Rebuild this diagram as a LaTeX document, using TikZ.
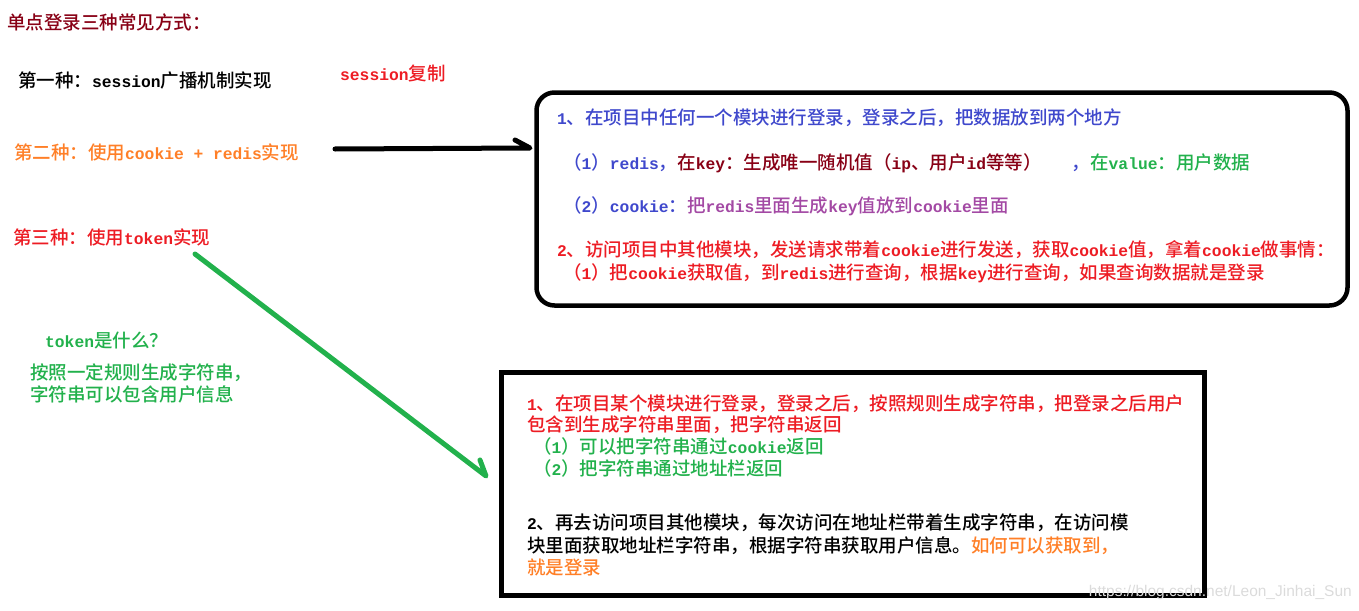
\documentclass[tikz,border=0pt]{standalone}
\usepackage{fontspec}
\setmainfont{Noto Sans CJK SC}[BoldFont={Noto Sans CJK SC Medium}]
\newfontfamily\latf{Liberation Mono}[Scale=0.88]
\newfontfamily\wmf{Liberation Sans}
\newcommand\ltn[1]{{\latf #1}}
\definecolor{pdred}{HTML}{880015}
\definecolor{pred}{HTML}{ED1C24}
\definecolor{porange}{HTML}{FF7F27}
\definecolor{pgreen}{HTML}{22B14C}
\definecolor{pblue}{HTML}{3F48CC}
\definecolor{ppurple}{HTML}{A349A4}
\tikzset{
  txt/.style={anchor=base west, inner sep=0pt, font=\bfseries\fontsize{18.5}{22}\selectfont},
  pen/.style={line width=5pt, line cap=round, line join=round},
}
\begin{document}
\begin{tikzpicture}[x=1pt,y=-1pt]
\useasboundingbox (0,0) rectangle (1359,610);
% boxes
\node[draw, line width=4.5pt, rounded corners=18pt, minimum width=811pt, minimum height=213pt, inner sep=0pt] (box1) at (942,199) {};
\node[draw, line width=5pt, minimum width=703pt, minimum height=223pt, inner sep=0pt] (box2) at (853,484) {};
% left texts
\node[txt, text=pdred] (t0) at (7,30) {单点登录三种常见方式：};
\node[txt, text=black] (t1) at (18,87) {第一种：\ltn{session}广播机制实现};
\node[txt, text=pred] (t1b) at (340,81) {\ltn{session}复制};
\node[txt, text=porange] (t2) at (14,159) {第二种：使用\ltn{cookie + redis}实现};
\node[txt, text=pred] (t3) at (13,244) {第三种：使用\ltn{token}实现};
\node[txt, text=pgreen] (tq) at (45,347) {\ltn{token}是什么？};
\node[txt, text=pgreen] (tq2) at (30,379) {按照一定规则生成字符串，};
\node[txt, text=pgreen] (tq3) at (30,401) {字符串可以包含用户信息};
% box 1 texts
\node[txt, text=pblue] (b1l1) at (557,124) {\ltn{1}、在项目中任何一个模块进行登录，登录之后，把数据放到两个地方};
\node[txt, text=pblue] (b1l2) at (563,169) {（\ltn{1}）\ltn{redis}，\textcolor{pdred}{在\ltn{key}：生成唯一随机值（\ltn{ip}、用户\ltn{id}等等）}\hspace{30pt}，\textcolor{pgreen}{在\ltn{value}：用户数据}};
\node[txt, text=pblue] (b1l3) at (563,212) {（\ltn{2}）\ltn{cookie}：\textcolor{ppurple}{把\ltn{redis}里面生成\ltn{key}值放到\ltn{cookie}里面}};
\node[txt, text=pred] (b1l4) at (557,256) {\ltn{2}、访问项目中其他模块，发送请求带着\ltn{cookie}进行发送，获取\ltn{cookie}值，拿着\ltn{cookie}做事情：};
\node[txt, text=pred] (b1l5) at (563,279) {（\ltn{1}）把\ltn{cookie}获取值，到\ltn{redis}进行查询，根据\ltn{key}进行查询，如果查询数据就是登录};
% box 2 texts
\node[txt, text=pred] (b2l1) at (527,410) {\ltn{1}、在项目某个模块进行登录，登录之后，按照规则生成字符串，把登录之后用户};
\node[txt, text=pred] (b2l2) at (527,431) {包含到生成字符串里面，把字符串返回};
\node[txt, text=pgreen] (b2l3) at (533,453) {（\ltn{1}）可以把字符串通过\ltn{cookie}返回};
\node[txt, text=pgreen] (b2l4) at (533,475) {（\ltn{2}）把字符串通过地址栏返回};
\node[txt, text=black] (b2l5) at (527,529) {\ltn{2}、再去访问项目其他模块，每次访问在地址栏带着生成字符串，在访问模};
\node[txt, text=black] (b2l6) at (527,552) {块里面获取地址栏字符串，根据字符串获取用户信息。\textcolor{porange}{如何可以获取到，}};
\node[txt, text=porange] (b2l7) at (527,574) {就是登录};
% watermark
\node[anchor=east, inner sep=0pt, text=gray!28, font=\wmf\fontsize{15.5}{18}\selectfont] (wm) at (1352,592) {https://blog.csdn.net/Leon\_Jinhai\_Sun};
% arrows
\coordinate (a1s) at (335,149);
\coordinate (a1e) at (530,148);
\coordinate (a2s) at (195,254);
\coordinate (a2e) at (486,476);
\draw[pen, black] (a1s) -- (a1e) -- ++(-15,-8);
\draw[pen, pgreen] (a2s) -- (a2e) -- ++(-6,-16);
\end{tikzpicture}
\end{document}
